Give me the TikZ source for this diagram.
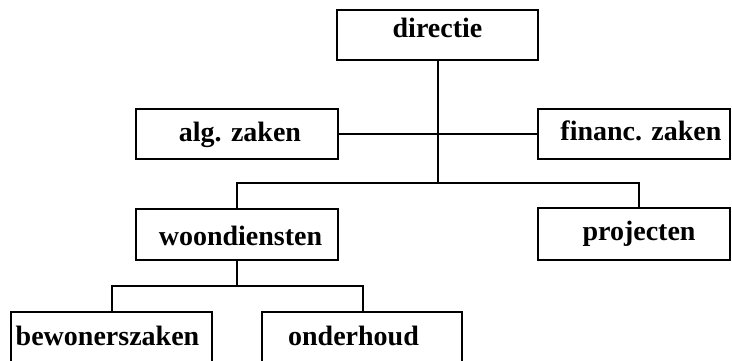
\documentclass[tikz,border=0pt]{standalone}
\usepackage{fontspec}
\setmainfont{Liberation Serif}
% label text moved right by #1 and up by #2 without changing its box
\newcommand\lbl[3]{\raisebox{#2}{\hspace*{#1}#3\hspace*{-#1}}}
\begin{document}
\begin{tikzpicture}[x=1pt,y=-1pt,
  unit/.style={draw,line width=1.6pt,inner sep=0pt,text height=18pt,text depth=4pt,
    font=\bfseries\fontsize{28}{30}\selectfont},
  link/.style={line width=1.6pt}]
\useasboundingbox (0,0) rectangle (732,361);
\clip (0,0) rectangle (732,361);
% boxes
\node[unit,minimum width=201pt,minimum height=50pt] (dir) at (437.5,35) {\lbl{0pt}{4pt}{directie}};
\node[unit,minimum width=202pt,minimum height=50pt] (alg) at (237,134) {\lbl{3pt}{-1pt}{alg. zaken}};
\node[unit,minimum width=192pt,minimum height=50pt] (fin) at (634,134) {\lbl{7pt}{1pt}{financ. zaken}};
\node[unit,minimum width=202pt,minimum height=51pt] (woon) at (237,234.5) {\lbl{3.5pt}{-3.5pt}{woondiensten}};
\node[unit,minimum width=192pt,minimum height=52pt] (proj) at (634,234) {\lbl{5pt}{1pt}{projecten}};
\node[unit,minimum width=201pt,minimum height=52pt] (bew) at (111.5,338) {\lbl{-4pt}{0pt}{bewonerszaken}};
\node[unit,minimum width=200pt,minimum height=52pt] (ond) at (362,338) {\lbl{-8.5pt}{0pt}{onderhoud}};
% junction points
\coordinate (spine) at (438,183);
\coordinate (lvl2l) at (237,183);
\coordinate (lvl2r) at (639,183);
\coordinate (lvl3) at (237,286);
\coordinate (lvl3l) at (112,286);
\coordinate (lvl3r) at (363,286);
% connectors
\draw[link] (dir.south -| spine) -- (spine);
\draw[link] (alg.east) -- (fin.west);
\draw[link] (woon.north) -- (lvl2l) -- (lvl2r) -- (proj.north -| lvl2r);
\draw[link] (woon.south) -- (lvl3);
\draw[link] (bew.north -| lvl3l) -- (lvl3l) -- (lvl3r) -- (ond.north -| lvl3r);
\end{tikzpicture}
\end{document}
